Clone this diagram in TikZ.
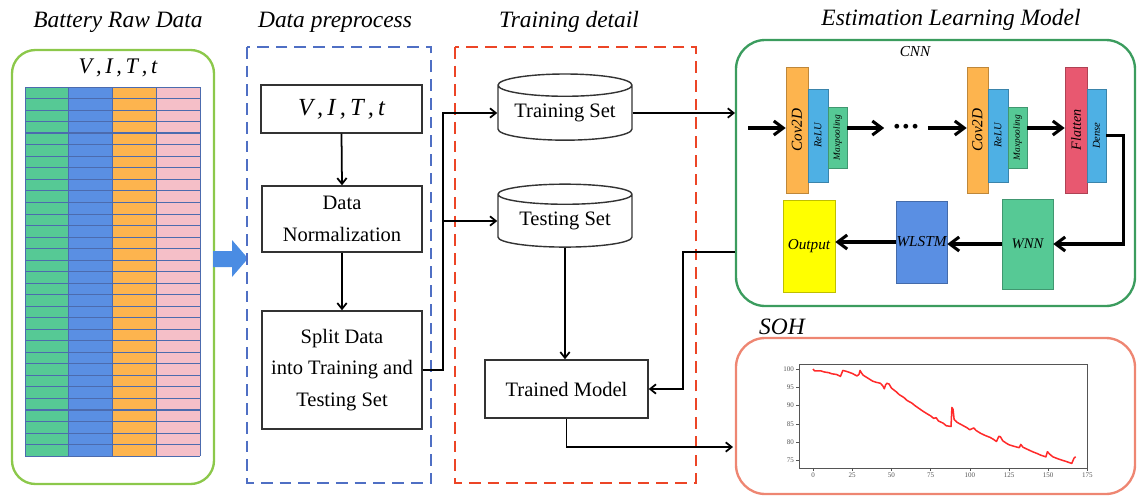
\documentclass[tikz,border=0pt]{standalone}
\usepackage{fontspec}
\setmainfont{Liberation Serif}
\usetikzlibrary{arrows.meta,shapes.geometric}
\definecolor{rawgreen}{HTML}{8CC84B}
\definecolor{prepblue}{HTML}{4F6FC4}
\definecolor{trainred}{HTML}{EC4526}
\definecolor{modelgreen}{HTML}{3B9C5E}
\definecolor{sohsalmon}{HTML}{EE8672}
\definecolor{boxedge}{HTML}{333333}
\definecolor{cellgreen}{HTML}{56C995}
\definecolor{cellblue}{HTML}{5A8FE3}
\definecolor{cellorange}{HTML}{FDB44E}
\definecolor{cellpink}{HTML}{F5BFC8}
\definecolor{rowline}{HTML}{4C6BAE}
\definecolor{relublue}{HTML}{4EB0E4}
\definecolor{flatred}{HTML}{E85870}
\definecolor{outyellow}{HTML}{FFFF00}
\definecolor{arrowblue}{HTML}{4A8CE3}
\definecolor{curvered}{HTML}{FF2A2A}
\definecolor{axisgray}{HTML}{555555}
\newcommand{\pxunit}{0.03cm}

\begin{document}
\begin{tikzpicture}[
  x=0.03cm,
  y=-0.03cm,
  every node/.style={inner sep=0pt, font=\fontsize{17.5}{27}\selectfont},
  title/.style={font=\fontsize{20}{24}\selectfont\itshape},
  procbox/.style={draw=boxedge, line width=1.2pt, align=center},
  dbstore/.style={draw=boxedge, line width=1.2pt, cylinder, shape border rotate=90,
    aspect=0.22, inner ysep=6pt, minimum width=134*\pxunit},
  flow/.style={-{Straight Barb[length=5pt,width=8pt]}, line width=1.5pt},
  cnnflow/.style={-{Straight Barb[length=8pt,width=12pt]}, line width=2.6pt},
  layer/.style={fill=#1, draw=#1!75!black, line width=0.5pt},
  ticklabel/.style={font=\fontsize{6}{7}\selectfont, text=axisgray}
]
  \useasboundingbox (0,0) rectangle (1139,497);

  % titles
  \node[title] (rawtitle) at (118,22) {Battery Raw Data};
  \node[title] (preptitle) at (335,22) {Data preprocess};
  \node[title] (traintitle) at (569,22) {Training detail};
  \node[title] (modeltitle) at (951,20) {Estimation Learning Model};
  \node[title] (sohtitle) at (782,327) {SOH};

  % raw data
  \draw[rawgreen, line width=2pt, rounded corners=20pt] (12,50) rectangle (214,484);
  \node[font=\fontsize{19}{22}\selectfont\itshape] (rawvars) at (118,68) {V\,,\,I\,,\,T\,,\,t};
  \foreach \c/\col in {0/cellgreen,1/cellblue,2/cellorange,3/cellpink}
    \fill[\col] (25+\c*43.75,87) rectangle (68.75+\c*43.75,456);
  \foreach \r in {0,...,32}
    \draw[rowline, line width=0.5pt] (25,87+\r*11.53) -- (200,87+\r*11.53);
  \foreach \r in {4,12,20,28}
    \draw[rowline, line width=1.1pt] (25,87+\r*11.53) -- (200,87+\r*11.53);
  \foreach \c in {0,...,4}
    \draw[rowline, line width=0.5pt] (25+\c*43.75,87) -- (25+\c*43.75,456);
  \fill[arrowblue] (213,251) -- (232,251) -- (232,240) -- (248,258.5)
    -- (232,277) -- (232,267) -- (213,267) -- cycle;

  % preprocess
  \draw[prepblue, line width=2pt, dash pattern=on 10pt off 6pt] (247,47) rectangle (431,483);
  \node[procbox, minimum width=161*\pxunit, minimum height=48*\pxunit,
    font=\fontsize{21}{24}\selectfont\itshape] (vit) at (341.5,109) {V\,,\,I\,,\,T\,,\,t};
  \node[procbox, minimum width=160*\pxunit, minimum height=66*\pxunit] (norm) at (342,219)
    {Data\\Normalization};
  \node[procbox, minimum width=160*\pxunit, minimum height=118*\pxunit] (split) at (342,370)
    {Split Data\\into Training and\\Testing Set};

  % training
  \draw[trainred, line width=2pt, dash pattern=on 10pt off 6pt] (455,47) rectangle (696,483);
  \node[dbstore] (train) at (565,113) {Training Set};
  \node[dbstore] (test) at (565,221) {Testing Set};
  \node[procbox, minimum width=163*\pxunit, minimum height=58*\pxunit] (trained) at (566.5,389)
    {Trained Model};

  \draw[flow] (vit.south) -- (norm.north);
  \draw[flow] (norm.south) -- (split.north);
  \draw[flow] (split.east) -- ++(20,0) |- (train.west);
  \draw[flow] (split.east) -- ++(20,0) |- (test.west);
  \draw[flow] (test.south) -- (test.south |- trained.north);

  % model
  \draw[modelgreen, line width=2pt, rounded corners=25pt] (736,40) rectangle (1135,306);
  \node[font=\fontsize{13}{15}\selectfont\itshape] (cnnlabel) at (915,52) {CNN};
  \node[layer=cellorange, minimum width=22*\pxunit, minimum height=126*\pxunit] (conv1) at (797,130)
    {\rotatebox{90}{\fontsize{13}{14}\selectfont\itshape Cov2D}};
  \node[layer=relublue, minimum width=20*\pxunit, minimum height=93*\pxunit] (relu1) at (818,135.5)
    {\rotatebox{90}{\fontsize{9}{10}\selectfont\itshape ReLU}};
  \node[layer=cellgreen, minimum width=19*\pxunit, minimum height=61*\pxunit] (pool1) at (837.5,137.5)
    {\rotatebox{90}{\fontsize{8}{9}\selectfont\itshape Maxpooling}};
  \node[layer=cellorange, minimum width=21*\pxunit, minimum height=126*\pxunit] (conv2) at (977.5,130)
    {\rotatebox{90}{\fontsize{13}{14}\selectfont\itshape Cov2D}};
  \node[layer=relublue, minimum width=20*\pxunit, minimum height=93*\pxunit] (relu2) at (998,135.5)
    {\rotatebox{90}{\fontsize{9}{10}\selectfont\itshape ReLU}};
  \node[layer=cellgreen, minimum width=19*\pxunit, minimum height=61*\pxunit] (pool2) at (1017.5,137.5)
    {\rotatebox{90}{\fontsize{8}{9}\selectfont\itshape Maxpooling}};
  \node[layer=flatred, minimum width=22*\pxunit, minimum height=126*\pxunit] (flat) at (1076,130)
    {\rotatebox{90}{\fontsize{12}{13}\selectfont\itshape Flatten}};
  \node[layer=relublue, minimum width=19*\pxunit, minimum height=93*\pxunit] (dense) at (1096.5,135.5)
    {\rotatebox{90}{\fontsize{9}{10}\selectfont\itshape Dense}};
  \node[layer=outyellow, minimum width=52*\pxunit, minimum height=92*\pxunit,
    font=\fontsize{13}{15}\selectfont\itshape] (out) at (809,246) {Output};
  \node[layer=cellblue, minimum width=51*\pxunit, minimum height=82*\pxunit,
    font=\fontsize{13}{15}\selectfont\itshape] (wlstm) at (921.5,242) {WLSTM};
  \node[layer=cellgreen, minimum width=51*\pxunit, minimum height=90*\pxunit,
    font=\fontsize{12.5}{15}\selectfont\itshape] (wnn) at (1027.5,244) {WNN};
  \node[inner xsep=8pt, font=\fontsize{15}{16}\selectfont\bfseries] (dots) at (906,128)
    {\textbullet\,\textbullet\,\textbullet};

  \coordinate (cnnin) at (748,128);
  \draw[cnnflow] (cnnin) -- (cnnin -| conv1.west);
  \draw[cnnflow] (cnnin -| pool1.east) -- (dots.west);
  \draw[cnnflow] (dots.east) -- (cnnin -| conv2.west);
  \draw[cnnflow] (cnnin -| pool2.east) -- (cnnin -| flat.west);
  \draw[cnnflow] (dense.east) -- ++(17,0) |- (wnn.east);
  \draw[cnnflow] (wnn.west) -- (wnn.west -| wlstm.east);
  \draw[cnnflow] (wlstm.west) -- (wlstm.west -| out.east);

  \coordinate (modelin) at (735,112);
  \coordinate (modelout) at (735,252);
  \draw[flow] (train.east) -- (train.east -| modelin);
  \draw[flow] (modelout) -- ++(-52,0) |- (trained.east);

  % soh
  \draw[sohsalmon, line width=2pt, rounded corners=25pt] (736,338) rectangle (1135,494);
  \coordinate (sohin) at (733,447);
  \draw[flow] (trained.south) |- (sohin);
  \begin{scope}[shift={(813,369)}, x=0.04704cm, y=0.1098cm]
    \draw[axisgray, line width=0.5pt] (-9,1.4) rectangle (174.7,-27);
    \foreach \t in {0,25,...,175} {
      \draw[axisgray, line width=0.4pt] (\t,-27) -- (\t,-27.8);
      \node[ticklabel] at (\t,-28.9) {\t};
    }
    \foreach \t in {0,5,...,25} {
      \pgfmathtruncatemacro\soh{100-\t}
      \draw[axisgray, line width=0.4pt] (-9,-\t) -- (-10.8,-\t);
      \node[ticklabel, anchor=east] at (-12,-\t) {\soh};
    }
    \draw[curvered, line width=1.3pt, line join=round] plot coordinates {
      (0,0) (1,-0.5) (5,-0.5) (7,-0.8) (10,-1.0) (12,-1.3) (15,-1.5) (17.5,-2.0)
      (18.3,-1.2) (19,-0.4) (21,-0.6) (23,-0.9) (25,-1.2) (28,-1.9) (29.3,-1.5)
      (30,-0.4) (30.8,-1.0) (32,-1.7) (35,-2.5) (38,-3.3) (40,-3.6) (43,-3.9)
      (44.5,-4.6) (45.5,-5.4) (46.3,-4.3) (47.2,-3.9) (48.5,-4.1) (50,-5.2)
      (53,-6.2) (55,-7.0) (58,-7.8) (60,-8.6) (63,-9.3) (65,-10.0) (68,-10.9)
      (70,-11.5) (73,-12.3) (75,-12.8) (77,-13.5) (78.5,-13.3) (80,-14.2)
      (83,-14.8) (85,-15.5) (88,-15.7) (88.6,-10.5) (89.3,-11.0) (90,-13.8)
      (92,-14.6) (95,-15.3) (98,-16.0) (100,-16.6) (102.5,-16.1) (104,-16.8)
      (107,-17.6) (110,-18.2) (113,-18.7) (115,-19.2) (117,-19.8) (118.5,-18.4)
      (119.5,-18.5) (121,-19.6) (123,-20.2) (125,-20.7) (128,-21.1) (131.5,-21.5)
      (132.5,-20.6) (134,-21.4) (137,-22.0) (140,-22.6) (143,-23.1) (145,-23.5)
      (148.5,-24.0) (149.5,-22.6) (151,-23.3) (153,-24.0) (156,-24.5) (158,-24.8)
      (161,-25.2) (163,-25.5) (165,-25.8) (166.5,-24.3) (167.5,-24.0)
    };
  \end{scope}
\end{tikzpicture}
\end{document}
